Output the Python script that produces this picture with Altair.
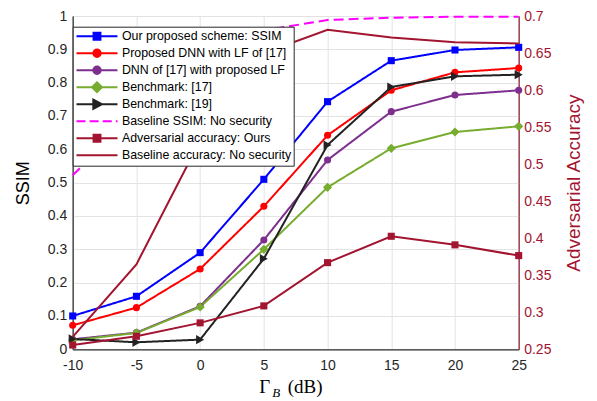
import altair as alt
import pandas as pd

# ---------------- data ----------------
x_db = [-10, -5, 0, 5, 10, 15, 20, 25]

series_names = [
    "Our proposed scheme: SSIM",
    "Proposed DNN with LF of [17]",
    "DNN of [17] with proposed LF",
    "Benchmark: [17]",
    "Benchmark: [19]",
    "Baseline SSIM: No security",
    "Adversarial accuracy: Ours",
    "Baseline accuracy: No security",
]
series_colors = ["#0000FF", "#FF0000", "#7E2F8E", "#77AC30", "#222222",
                 "#FF00FF", "#A2142F", "#A2142F"]

ssim_ours = [0.100, 0.159, 0.290, 0.510, 0.743, 0.866, 0.898, 0.906]
ssim_dnn_lf17 = [0.072, 0.125, 0.241, 0.429, 0.642, 0.777, 0.831, 0.844]
ssim_dnn17_plf = [0.030, 0.050, 0.129, 0.328, 0.568, 0.713, 0.763, 0.777]
ssim_bench17 = [0.027, 0.049, 0.127, 0.300, 0.486, 0.603, 0.652, 0.669]
ssim_bench19 = [0.031, 0.021, 0.029, 0.272, 0.613, 0.787, 0.819, 0.824]
ssim_baseline = [0.522, 0.710, 0.890, 0.957, 0.988, 0.995, 0.998, 0.998]
acc_adv_ours = [0.2557, 0.2676, 0.2857, 0.3086, 0.3670, 0.4026, 0.3910, 0.3765]
acc_baseline = [0.2667, 0.3646, 0.5320, 0.6500, 0.6815, 0.6710, 0.6647, 0.6630]

left_ticks = [0, 0.1, 0.2, 0.3, 0.4, 0.5, 0.6, 0.7, 0.8, 0.9, 1]
right_ticks = [0.25, 0.3, 0.35, 0.4, 0.45, 0.5, 0.55, 0.6, 0.65, 0.7]

# ---------------- tables ----------------
left_series = [ssim_ours, ssim_dnn_lf17, ssim_dnn17_plf, ssim_bench17, ssim_bench19, ssim_baseline]
right_series = [acc_adv_ours, acc_baseline]

left_df = pd.DataFrame([
    {"x": xv, "y": yv, "series": series_names[i]}
    for i, vals in enumerate(left_series) for xv, yv in zip(x_db, vals)
])
right_df = pd.DataFrame([
    {"x": xv, "y": yv, "series": series_names[6 + i]}
    for i, vals in enumerate(right_series) for xv, yv in zip(x_db, vals)
])

RED = "#A2142F"
DARK = "#262626"
H = 333.3

# data-mark scales (an unused extra domain entry keeps them apart from the legend scales)
color_scale = alt.Scale(domain=series_names + ["-"], range=series_colors + ["#000000"])
dash_scale = alt.Scale(domain=series_names + ["-"],
                       range=[[1, 0], [1, 0], [1, 0], [1, 0], [1, 0], [10, 5], [1, 0], [1, 0], [1, 0]])

# legend symbols: line + marker drawn as custom paths
LINE = "M-2.5,0H2.5"
SQ = "M-0.42,-0.42H0.42V0.42H-0.42Z"
CI = "M-0.45,0A0.45,0.45,0,1,0,0.45,0A0.45,0.45,0,1,0,-0.45,0Z"
DI = "M0,-0.6L0.6,0L0,0.6L-0.6,0Z"
TR = "M-0.45,-0.55L0.6,0L-0.45,0.55Z"
DASH = "M-2.5,0H-1.4M-0.9,0H0.2M0.7,0H1.8M2.3,0H2.5"
legend_shapes = [LINE + SQ, LINE + CI, LINE + CI, LINE + DI, LINE + TR, DASH, LINE + SQ, LINE]

x_enc = alt.X("x:Q", scale=alt.Scale(domain=[-10, 25], nice=False),
              axis=alt.Axis(values=x_db, labelExpr="'' + datum.value", title=None,
                            grid=True, labelPadding=9))

y_left = alt.Y("y:Q", scale=alt.Scale(domain=[0, 1], nice=False),
               axis=alt.Axis(values=left_ticks, format=".1~f", grid=True,
                             title="SSIM", titleFontSize=18, titleAngle=270,
                             titleBaseline="bottom", titleX=-40, titleY=H / 2,
                             titleColor="black", labelPadding=6))

y_right = alt.Y("y:Q", scale=alt.Scale(domain=[0.25, 0.7], nice=False),
                axis=alt.Axis(orient="right", values=right_ticks, format=".2~f",
                              grid=False, labelColor=RED, domainColor=RED,
                              title="Adversarial Accuracy", titleColor=RED,
                              titleFontSize=19, titleAngle=270, titleBaseline="top",
                              titleX=46, titleY=H / 2, labelPadding=5))

color_enc = alt.Color("series:N", scale=color_scale, legend=None)

left_lines = alt.Chart(left_df).mark_line(strokeWidth=2).encode(
    x=x_enc, y=y_left, color=color_enc,
    strokeDash=alt.StrokeDash("series:N", scale=dash_scale, legend=None),
)

def pts(df, y, name, shape, size):
    return alt.Chart(df).transform_filter(alt.datum.series == name).mark_point(
        filled=True, shape=shape, size=size, opacity=1
    ).encode(x=x_enc, y=y, color=color_enc)

legend_def = alt.Legend(
    title=None, orient="none", legendX=0, legendY=10.7,
    fillColor="white", strokeColor=DARK, padding=1.5, rowPadding=0, clipHeight=16.1,
    labelFont="Liberation Sans", labelFontSize=12.4, labelColor="black",
    symbolSize=269, symbolStrokeWidth=2, symbolOpacity=1,
    symbolOffset=13.3, labelOffset=15.4, labelLimit=400,
)

all_df = pd.concat([left_df, right_df], ignore_index=True)
legend_layer = alt.Chart(all_df).mark_point(size=269, strokeWidth=2, opacity=1).encode(
    x=x_enc, y=y_left,
    fill=alt.Fill("series:N", scale=alt.Scale(domain=series_names, range=series_colors), legend=legend_def),
    stroke=alt.Stroke("series:N", scale=alt.Scale(domain=series_names, range=series_colors), legend=legend_def),
    shape=alt.Shape("series:N", scale=alt.Scale(domain=series_names, range=legend_shapes), legend=legend_def),
    fillOpacity=alt.value(0),
    strokeOpacity=alt.value(0),
)

left = alt.layer(
    left_lines,
    pts(left_df, y_left, series_names[0], "square", 50),
    pts(left_df, y_left, series_names[1], "circle", 50),
    pts(left_df, y_left, series_names[2], "circle", 50),
    pts(left_df, y_left, series_names[3], "diamond", 85),
    pts(left_df, y_left, series_names[4], "triangle-right", 85),
    legend_layer,
)

right_lines = alt.Chart(right_df).mark_line(strokeWidth=2).encode(
    x=x_enc, y=y_right, color=color_enc)
right = alt.layer(
    right_lines,
    pts(right_df, y_right, series_names[6], "square", 50),
)

def title_text(t, px, py, size, style="normal"):
    return alt.Chart(pd.DataFrame({"t": [t]})).mark_text(
        align="left", baseline="alphabetic", font="Liberation Serif",
        fontSize=size, fontStyle=style, color="black"
    ).encode(text="t:N", x=alt.value(px), y=alt.value(py))

chart = alt.layer(
    left, right,
    title_text("Γ", 186.6, 377.3, 19),
    title_text("B", 199.5, 381.3, 13, "italic"),
    title_text("(dB)", 215, 377.3, 19),
).resolve_scale(y="independent").properties(
    width=446, height=H,
    autosize=alt.AutoSizeParams(type="none"),
    padding={"left": 64.7, "top": 8, "right": 70, "bottom": 50},
).configure_axis(
    labelFont="Liberation Sans", labelFontSize=14, labelColor=DARK,
    domainColor=DARK, domainWidth=1, gridColor="#E3E3E3", gridWidth=1,
    ticks=False, labelFlush=False, titleFont="Liberation Sans", titleFontWeight="normal",
).configure_view(stroke=DARK, strokeWidth=1)

chart.save("out.html", embed_options={"renderer": "svg", "actions": False})
